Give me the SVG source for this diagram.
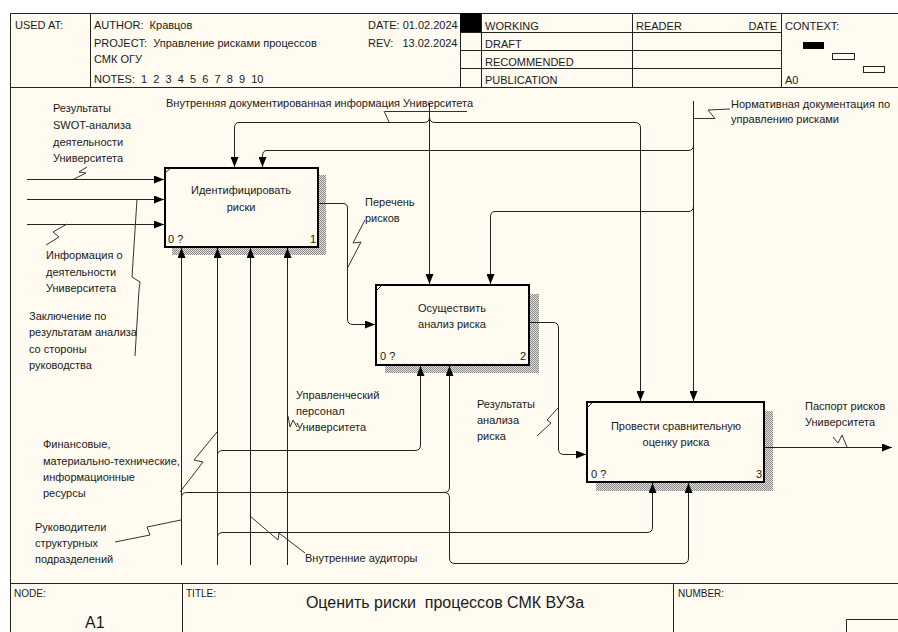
<svg xmlns="http://www.w3.org/2000/svg" width="898" height="632" viewBox="0 0 898 632">
<style>
text{font-family:"Liberation Sans",Arial,sans-serif;fill:#1a1a1a;white-space:pre;}
.t{font-size:11px;}
.h{font-size:11px;}
.s{font-size:10px;}
.c{text-anchor:middle;}
.frame{stroke:#222;stroke-width:1;fill:none;}
.box{fill:#fffbf0;stroke:#000;stroke-width:2;}
.shadow{fill:url(#hatch);}
.arr{fill:none;stroke:#222;stroke-width:1;marker-end:url(#ah);}
.ln{fill:none;stroke:#222;stroke-width:1;}
.sq{fill:none;stroke:#333;stroke-width:1;}
</style>
<defs>
<pattern id="hatch" width="2" height="2" patternUnits="userSpaceOnUse">
<rect width="2" height="2" fill="#e2e0da"/>
<rect width="1" height="1" fill="#8a8a8a"/>
<rect x="1" y="1" width="1" height="1" fill="#8a8a8a"/>
</pattern>
<marker id="ah" markerWidth="10" markerHeight="8" refX="10" refY="4" orient="auto" markerUnits="userSpaceOnUse">
<path d="M0,0 L10,4 L0,8 z" fill="#000"/>
</marker>
</defs>
<rect x="0" y="0" width="898" height="632" fill="#ffffff"/>
<rect x="10" y="13" width="888" height="619" fill="#fffbf0"/>

<g id="header">
<path class="frame" d="M10.5,632 V13.5 H898 M10,87.5 H898 M90.5,13 V87 M460.5,13 V87 M481.5,13 V87 M632.5,13 V87 M781.5,13 V87 M460,32.5 H781 M460,50.5 H781 M460,68.5 H781"/>
<rect x="460" y="13" width="21" height="19" fill="#000"/>
<text class="h" x="15" y="29">USED AT:</text>
<text class="h" x="94" y="29">AUTHOR:  Кравцов</text>
<text class="h" x="94" y="47">PROJECT:  Управление рисками процессов</text>
<text class="h" x="94" y="63">СМК ОГУ</text>
<text class="h" x="94" y="83">NOTES:  1  2  3  4  5  6  7  8  9  10</text>
<text class="h" x="368" y="29">DATE: 01.02.2024</text>
<text class="h" x="368" y="47">REV:   13.02.2024</text>
<text class="h" x="485" y="30">WORKING</text>
<text class="h" x="485" y="48">DRAFT</text>
<text class="h" x="485" y="66">RECOMMENDED</text>
<text class="h" x="485" y="84">PUBLICATION</text>
<text class="h" x="636" y="30">READER</text>
<text class="h" x="777" y="30" text-anchor="end">DATE</text>
<text class="h" x="785" y="30">CONTEXT:</text>
<text class="h" x="785" y="84">A0</text>
<rect x="803" y="42" width="21" height="7" fill="#000"/>
<rect x="832.5" y="53.5" width="22" height="6" fill="none" stroke="#222"/>
<rect x="863.5" y="66.5" width="21" height="6" fill="none" stroke="#222"/>
</g>

<g id="footer">
<path class="frame" d="M10,583.5 H898 M182.5,583 V632 M673.5,583 V632 M846.5,632 V619.5 H898"/>
<text class="s" x="14" y="597">NODE:</text>
<text x="85" y="628" style="font-size:16px">A1</text>
<text class="s" x="186" y="597">TITLE:</text>
<text x="445" y="608" class="c" style="font-size:16px">Оценить риски  процессов СМК ВУЗа</text>
<text class="s" x="678" y="597">NUMBER:</text>
</g>

<g id="node1">
<rect class="shadow" x="172" y="175" width="154" height="80"/>
<rect class="box" x="165" y="168" width="153" height="79"/>
<path class="ln" d="M165,173 L171,168" stroke-width="1.5"/>
<text class="t c" x="241" y="194">Идентифицировать</text>
<text class="t c" x="241" y="211">риски</text>
<text class="t" x="168" y="243">0 ?</text>
<text class="t" x="310" y="243">1</text>
</g>

<g id="node2">
<rect class="shadow" x="385" y="294" width="154" height="79"/>
<rect class="box" x="376" y="285" width="153" height="80"/>
<path class="ln" d="M376,291 L382,285" stroke-width="1.5"/>
<text class="t c" x="452" y="312">Осуществить</text>
<text class="t c" x="452" y="328">анализ риска</text>
<text class="t" x="380" y="360">0 ?</text>
<text class="t" x="520" y="360">2</text>
</g>

<g id="node3">
<rect class="shadow" x="596" y="411" width="177" height="80"/>
<rect class="box" x="587" y="402" width="177" height="80"/>
<path class="ln" d="M587,408 L593,402" stroke-width="1.5"/>
<text class="t c" x="676" y="430">Провести сравнительную</text>
<text class="t c" x="676" y="446">оценку риска</text>
<text class="t" x="591" y="478">0 ?</text>
<text class="t" x="756" y="478">3</text>
</g>

<g id="connectors">
<path class="arr" d="M27,179.5 H164"/>
<path class="arr" d="M27,199.5 H164"/>
<path class="arr" d="M27,224.5 H164"/>

<path class="arr" d="M429.5,103 V284"/>
<path class="arr" d="M429.5,117 Q429.5,122.5 424,122.5 H239 Q234.5,122.5 234.5,128 V167"/>
<path class="arr" d="M429.5,117 Q429.5,122.5 435,122.5 H635 Q640.5,122.5 640.5,128 V401"/>
<path class="arr" d="M693.5,101 V401"/>
<path class="arr" d="M693.5,145 Q693.5,150.5 688,150.5 H267 Q262.5,150.5 262.5,156 V167"/>
<path class="arr" d="M693.5,206 Q693.5,211.5 688,211.5 H495 Q490.5,211.5 490.5,217 V284"/>

<path class="arr" d="M319,203.5 H343 Q347.5,203.5 347.5,208 V319 Q347.5,324.5 353,324.5 H375"/>
<path class="arr" d="M530,322.5 H553 Q558.5,322.5 558.5,328 V449 Q558.5,454.5 564,454.5 H586"/>
<path class="arr" d="M765,447.5 H892"/>

<path class="arr" d="M181.5,565 V248"/>
<path class="arr" d="M217.5,565 V248"/>
<path class="arr" d="M250.5,565 V248"/>
<path class="arr" d="M287.5,565 V248"/>
<path class="arr" d="M181.5,497 Q181.5,492.5 187,492.5 H444 Q449.5,492.5 449.5,487 V366"/>
<path class="arr" d="M444,492.5 Q449.5,492.5 449.5,498 V558 Q449.5,563.5 455,563.5 H683 Q688.5,563.5 688.5,558 V483"/>
<path class="arr" d="M217.5,455 Q217.5,450.5 223,450.5 H415 Q420.5,450.5 420.5,445 V366"/>
<path class="arr" d="M217.5,537 Q217.5,532.5 223,532.5 H647 Q652.5,532.5 652.5,527 V483"/>
</g>

<g id="labels">
<text class="t" x="53" y="112">Результаты</text>
<text class="t" x="53" y="129">SWOT-анализа</text>
<text class="t" x="53" y="146">деятельности</text>
<text class="t" x="53" y="162">Университета</text>
<path class="sq" d="M87,167 L79,172 L86,173 L74,179"/>

<text class="t" x="46" y="259">Информация о</text>
<text class="t" x="46" y="276">деятельности</text>
<text class="t" x="46" y="292">Университета</text>
<path class="sq" d="M67,224 L53,232 L59,237 L46,245"/>

<text class="t" x="29" y="320">Заключение по</text>
<text class="t" x="29" y="336">результатам анализа</text>
<text class="t" x="29" y="353">со стороны</text>
<text class="t" x="29" y="369">руководства</text>
<path class="sq" d="M137,199 L132,277 L140,282 L139,290 L135,356"/>

<text class="t" x="166" y="107">Внутренняя документированная информация Университета</text>
<path class="sq" d="M385,111.5 H467 M384,111 L389,122"/>

<text class="t" x="731" y="108">Нормативная документация по</text>
<text class="t" x="731" y="123">управлению рисками</text>
<path class="sq" d="M693,118.5 L715,118.5 L708,110 L730,109"/>

<text class="t" x="365" y="206">Перечень</text>
<text class="t" x="365" y="222">рисков</text>
<path class="sq" d="M365,220 L353,243 L361,242 L348,267"/>

<text class="t" x="477" y="408">Результаты</text>
<text class="t" x="477" y="424">анализа</text>
<text class="t" x="477" y="440">риска</text>
<path class="sq" d="M558,408 L547,420 L551,423 L537,436"/>

<text class="t" x="805" y="410">Паспорт рисков</text>
<text class="t" x="805" y="426">Университета</text>
<path class="sq" d="M833,437 L838,443 L842,435 L847,447"/>

<text class="t" x="296" y="399">Управленческий</text>
<text class="t" x="296" y="415">персонал</text>
<text class="t" x="296" y="431">Университета</text>
<path class="sq" d="M288,416 L290,427 L293,420 L297,427"/>

<text class="t" x="43" y="448">Финансовые,</text>
<text class="t" x="43" y="465">материально-технические,</text>
<text class="t" x="43" y="481">информационные</text>
<text class="t" x="43" y="497">ресурсы</text>
<path class="sq" d="M180,492 L203,462 L194,460 L217,432"/>

<text class="t" x="35" y="531">Руководители</text>
<text class="t" x="35" y="547">структурных</text>
<text class="t" x="35" y="563">подразделений</text>
<path class="sq" d="M181,520 L147,527 L150,535 L115,542"/>

<text class="t" x="305" y="562">Внутренние аудиторы</text>
<path class="sq" d="M250,516 L278,540 L279,533 L305,553"/>
</g>
</svg>
